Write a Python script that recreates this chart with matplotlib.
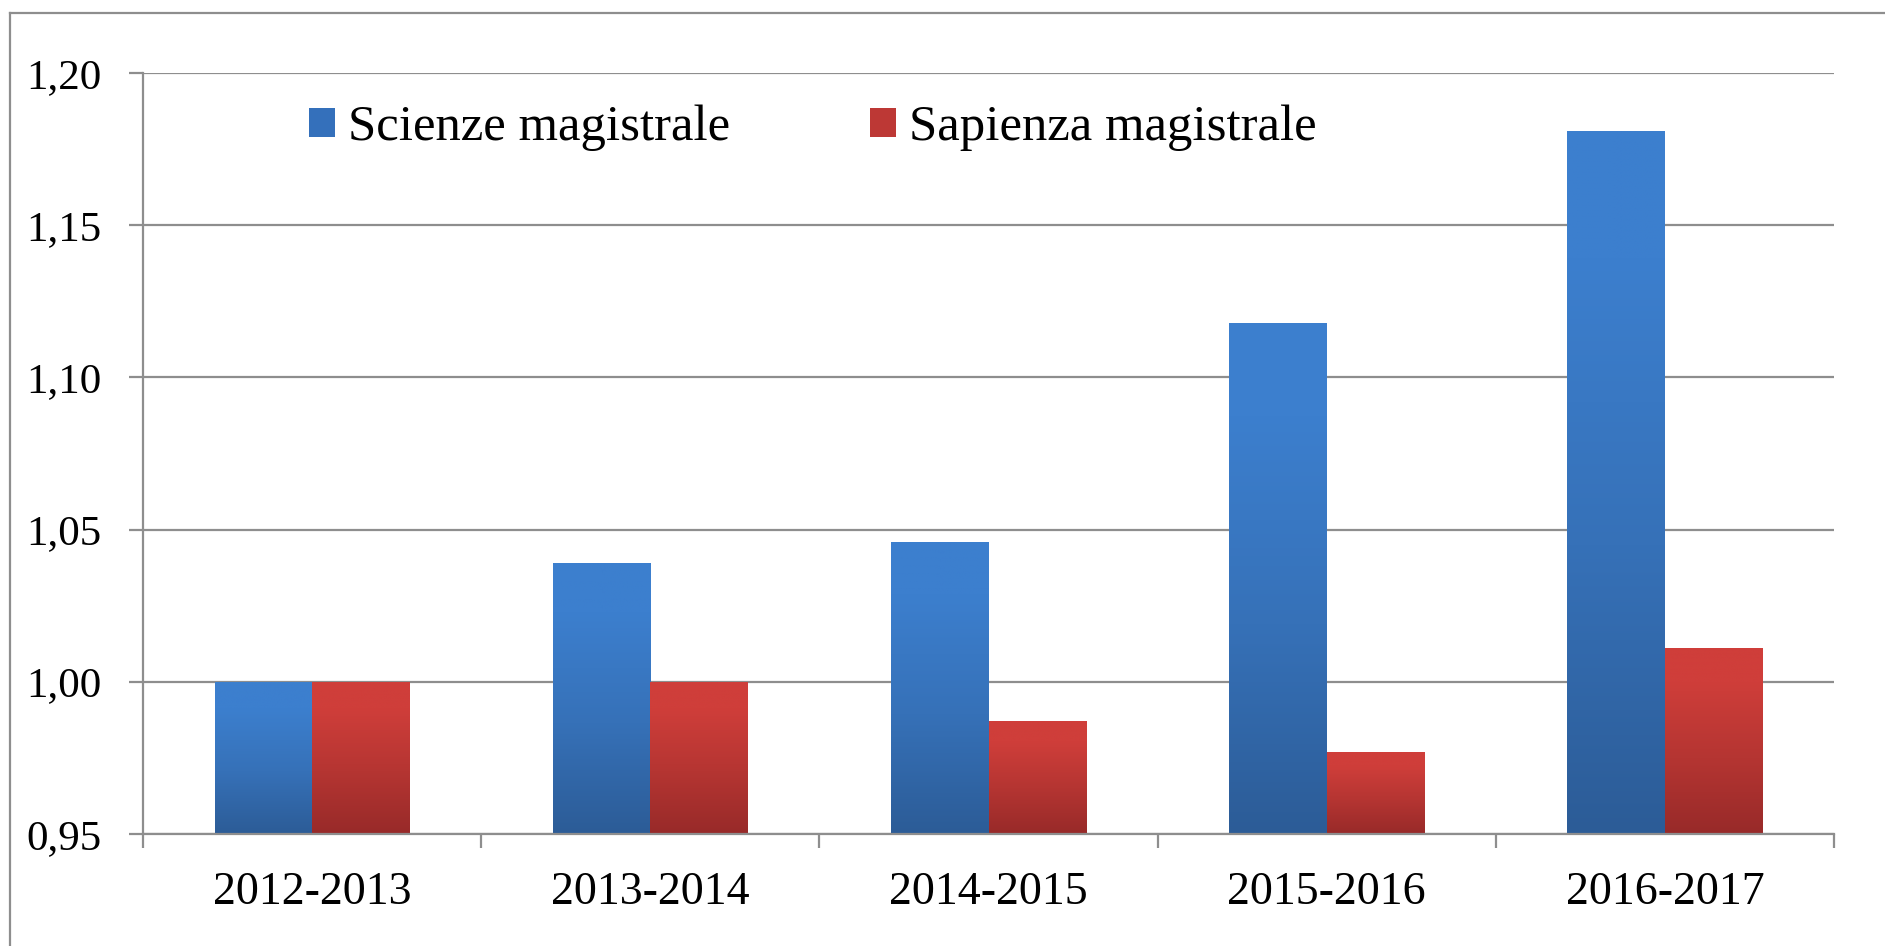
import numpy as np
import matplotlib
matplotlib.use('Agg')
import matplotlib.pyplot as plt
from matplotlib.colors import LinearSegmentedColormap
from matplotlib.patches import Patch
from matplotlib.lines import Line2D

plt.rcParams['font.family'] = ['Liberation Serif', 'DejaVu Serif']

years = ['2012-2013', '2013-2014', '2014-2015', '2015-2016', '2016-2017']
scienze = [1.000, 1.039, 1.046, 1.118, 1.181]
sapienza = [1.000, 1.000, 0.987, 0.977, 1.011]
series_names = ['Scienze magistrale', 'Sapienza magistrale']
yticks = [0.95, 1.00, 1.05, 1.10, 1.15, 1.20]
ytick_labels = ['0,95', '1,00', '1,05', '1,10', '1,15', '1,20']

y_base = 0.95
bar_w = 0.288
grey = '#8e8e8e'

blue_cmap = LinearSegmentedColormap.from_list('blue', ['#2c5c97', '#3671b8', '#3c7fce'])
red_cmap = LinearSegmentedColormap.from_list('red', ['#982a29', '#b53532', '#cf3e3a'])


def gradient_bars(ax, bars, cmap):
    grad = np.linspace(0, 1, 256)
    grad = np.clip(grad / 0.82, 0, 1).reshape(-1, 1)
    for p in bars:
        x0, y0 = p.get_x(), p.get_y()
        x1, y1 = x0 + p.get_width(), y0 + p.get_height()
        im = ax.imshow(grad, cmap=cmap, origin='lower', aspect='auto',
                       extent=(x0, x1, y0, y1), zorder=2)
        im.set_clip_path(p)
        p.set_facecolor('none')


fig = plt.figure(figsize=(18.85, 9.46), dpi=100)
ax = fig.add_axes([143 / 1885, 1 - 834 / 946, (1834 - 143) / 1885, (834 - 73) / 946])

x = np.arange(len(years))
b1 = ax.bar(x - bar_w / 2, np.array(scienze) - y_base, bar_w, bottom=y_base,
            edgecolor='none', zorder=2)
b2 = ax.bar(x + bar_w / 2, np.array(sapienza) - y_base, bar_w, bottom=y_base,
            edgecolor='none', zorder=2)
gradient_bars(ax, b1, blue_cmap)
gradient_bars(ax, b2, red_cmap)

ax.set_xlim(-0.5, len(years) - 0.5)
ax.set_ylim(0.95, 1.20)
ax.set_yticks(yticks)
ax.set_yticklabels(ytick_labels)
ax.set_xticks(x)
ax.set_xticklabels(years)
ax.set_xticks(np.arange(-0.5, len(years)), minor=True)

ax.yaxis.grid(True, color=grey, lw=1.6)
ax.set_axisbelow(True)
for s in ['top', 'right']:
    ax.spines[s].set_visible(False)
for s in ['left', 'bottom']:
    ax.spines[s].set_color(grey)
    ax.spines[s].set_linewidth(1.6)

ax.tick_params(axis='y', direction='out', length=10, width=1.6, color=grey,
               labelsize=31, pad=20)
ax.tick_params(axis='x', which='major', length=0, labelsize=33, pad=27)
ax.tick_params(axis='x', which='minor', direction='out', length=10, width=1.6, color=grey)

handles = [Patch(facecolor='#3470bb', edgecolor='none'),
           Patch(facecolor='#bd3835', edgecolor='none')]
ax.legend(handles, series_names, loc='center left', ncol=2, frameon=False,
          bbox_to_anchor=(309 / 1885, 1 - 128 / 946), bbox_transform=fig.transFigure,
          fontsize=36.5, handlelength=0.52, handleheight=0.52, handletextpad=0.25,
          columnspacing=2.75, borderpad=0, borderaxespad=0)

# outer chart frame
fig.add_artist(Line2D([10 / 1885, 10 / 1885], [0, 1 - 13 / 946], color=grey, lw=1.6,
                      transform=fig.transFigure))
fig.add_artist(Line2D([10 / 1885, 1], [1 - 13 / 946, 1 - 13 / 946], color=grey, lw=1.6,
                      transform=fig.transFigure))

fig.savefig('out.png', dpi=100)
